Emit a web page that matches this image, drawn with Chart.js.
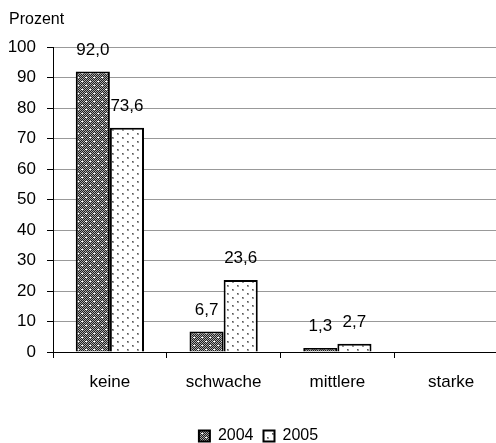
<!DOCTYPE html>
<html>
<head>
    <script src="https://cdn.jsdelivr.net/npm/chart.js"></script>
    <style>
        html, body { margin: 0; padding: 0; overflow: hidden; background: #fff; }
        #wrap { width: 508px; height: 454px; }
    </style>
</head>
<body>
    <div id="wrap"><canvas id="intensityChart"></canvas></div>

    <script>
        const categories = ['keine', 'schwache', 'mittlere', 'starke'];
        const years = ['2004', '2005'];
        const values2004 = [92.0, 6.7, 1.3, null];
        const values2005 = [73.6, 23.6, 2.7, null];
        const yTicks = [0, 10, 20, 30, 40, 50, 60, 70, 80, 90, 100];
    </script>
    <script>
        // fill patterns similar to the old office hatch fills
        function makePattern(kind) {
            const c = document.createElement('canvas');
            const ctx = c.getContext('2d');
            if (kind === 'dark') {
                c.width = 8; c.height = 8;
                for (let y = 0; y < 8; y++) {
                    for (let x = 0; x < 8; x++) {
                        ctx.fillStyle = (x + y) % 2 ? '#1e1e1e' : '#a8a8a8';
                        ctx.fillRect(x, y, 1, 1);
                    }
                }
                ctx.fillStyle = '#fff';
                ctx.fillRect(1, 1, 2, 1);
                ctx.fillRect(5, 5, 2, 1);
            } else {
                c.width = 10; c.height = 8;
                ctx.fillStyle = '#fff';
                ctx.fillRect(0, 0, 10, 8);
                ctx.fillStyle = '#9a9a9a';
                ctx.fillRect(2, 1, 2, 2);
                ctx.fillRect(7, 5, 2, 2);
                ctx.fillStyle = '#555';
                ctx.fillRect(2, 1, 1, 1);
                ctx.fillRect(7, 5, 1, 1);
            }
            return ctx.createPattern(c, 'repeat');
        }

        // value labels above the bars, German decimal comma
        const valueLabels = {
            id: 'valueLabels',
            afterDatasetsDraw(chart) {
                const ctx = chart.ctx;
                ctx.save();
                ctx.font = '17px "Liberation Sans", Arial, sans-serif';
                ctx.fillStyle = '#000';
                ctx.textAlign = 'center';
                ctx.textBaseline = 'alphabetic';
                chart.data.datasets.forEach((ds, i) => {
                    chart.getDatasetMeta(i).data.forEach((bar, j) => {
                        const v = ds.data[j];
                        if (v === null || v === undefined) return;
                        ctx.fillText(v.toFixed(1).replace('.', ','), bar.x, bar.y - 17);
                    });
                });
                ctx.restore();
            }
        };

        Chart.defaults.color = '#000';
        Chart.defaults.font.family = '"Liberation Sans", Arial, sans-serif';
        Chart.defaults.font.size = 17;

        const intensityChart = new Chart('intensityChart', {
            type: 'bar',
            data: {
                labels: categories,
                datasets: [
                    {
                        label: years[0],
                        data: values2004,
                        backgroundColor: makePattern('dark'),
                        borderColor: '#000',
                        borderWidth: 2,
                    },
                    {
                        label: years[1],
                        data: values2005,
                        backgroundColor: makePattern('light'),
                        borderColor: '#000',
                        borderWidth: 2,
                    },
                ]
            },
            plugins: [valueLabels],
            options: {
                responsive: true,
                maintainAspectRatio: false,
                animation: false,
                categoryPercentage: 0.6,
                barPercentage: 1.0,
                layout: {
                    padding: { left: 9, right: 0, top: 0, bottom: 0 }
                },
                plugins: {
                    title: {
                        display: true,
                        text: 'Prozent',
                        align: 'start',
                        color: '#000',
                        font: { size: 16, weight: 'normal' },
                        padding: { top: 10, bottom: 18 },
                    },
                    legend: {
                        position: 'bottom',
                        labels: {
                            boxWidth: 11,
                            boxHeight: 11,
                            padding: 10,
                            font: { size: 16 },
                        }
                    },
                    tooltip: { enabled: false },
                },
                scales: {
                    x: {
                        grid: {
                            drawOnChartArea: false,
                            tickColor: '#000',
                            tickLength: 6,
                        },
                        border: { color: '#000', width: 1 },
                        ticks: { padding: 14 },
                        afterFit: (scale) => { scale.height = 66; },
                    },
                    y: {
                        min: 0,
                        max: 100,
                        afterBuildTicks: (scale) => {
                            scale.ticks = yTicks.map(v => ({ value: v }));
                        },
                        grid: {
                            color: '#999',
                            tickColor: '#000',
                            tickLength: 6,
                        },
                        border: { color: '#000', width: 1 },
                        ticks: { padding: 11 },
                        afterFit: (scale) => { scale.width = 44; },
                    }
                }
            }
        });
    </script>
</body>
</html>
